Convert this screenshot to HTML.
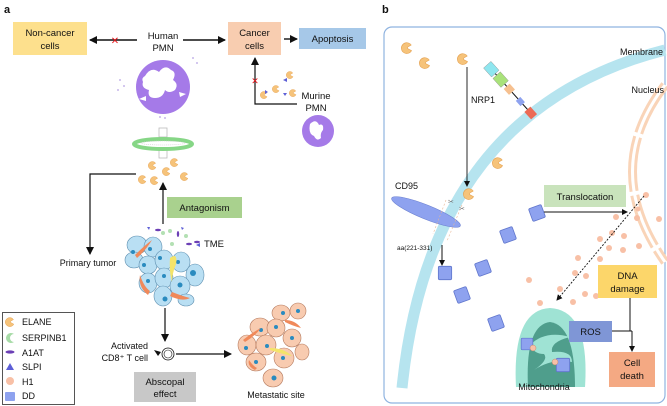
<!DOCTYPE html>
<html><head><meta charset="utf-8"><style>
html,body{margin:0;padding:0;background:#fff}
svg{display:block}
text{font-family:"Liberation Sans",sans-serif;fill:#111}
</style></head><body>
<svg width="667" height="406" viewBox="0 0 667 406" xmlns="http://www.w3.org/2000/svg">
<defs>
<marker id="ar" markerWidth="8" markerHeight="8" refX="7" refY="4" orient="auto" markerUnits="userSpaceOnUse"><path d="M0,0 L8,4 L0,8 z" fill="#111"/></marker>
<marker id="ars" markerWidth="6" markerHeight="6" refX="5" refY="3" orient="auto" markerUnits="userSpaceOnUse"><path d="M0,0 L6,3 L0,6 z" fill="#111"/></marker>
<symbol id="el" viewBox="-5 -5 10 10"><path d="M3.5,-2.5 A4.5,4.5 0 1 0 3.8,2.2 L0.8,0.6 A1.2,1.2 0 0 1 0.6,-0.8 z" fill="#f6c37a" stroke="#e4a04f" stroke-width="0.5"/></symbol>
<symbol id="dd" viewBox="-6 -6 12 12"><rect x="-5" y="-5" width="10" height="10" rx="1" fill="#8ea2ef" stroke="#5f75cc" stroke-width="0.6"/></symbol>
</defs>

<!-- ===== PANEL A ===== -->
<text x="4" y="13" font-size="11" font-weight="bold">a</text>
<rect x="13" y="22" width="74" height="33" fill="#fde08d"/>
<text x="50" y="36" font-size="9.5" text-anchor="middle">Non-cancer</text>
<text x="50" y="49" font-size="9.5" text-anchor="middle">cells</text>
<rect x="228" y="22" width="53" height="33" fill="#f8cdb0"/>
<text x="254.5" y="36" font-size="9.5" text-anchor="middle">Cancer</text>
<text x="254.5" y="49" font-size="9.5" text-anchor="middle">cells</text>
<rect x="299" y="28" width="67" height="21" fill="#a6c8e8"/>
<text x="332.5" y="42" font-size="9.5" text-anchor="middle">Apoptosis</text>
<text x="163" y="39" font-size="9.5" text-anchor="middle">Human</text>
<text x="163" y="51" font-size="9.5" text-anchor="middle">PMN</text>
<line x1="137" y1="40" x2="90" y2="40" stroke="#111" stroke-width="1.4" marker-end="url(#ar)"/>
<text x="115" y="44" font-size="10" style="fill:#e4161b" text-anchor="middle">✕</text>
<line x1="183" y1="40" x2="225" y2="40" stroke="#111" stroke-width="1.4" marker-end="url(#ar)"/>
<line x1="284" y1="39" x2="297" y2="39" stroke="#111" stroke-width="1.4" marker-end="url(#ar)"/>
<polyline points="297,104 255,104 255,58" fill="none" stroke="#111" stroke-width="1.2" marker-end="url(#ar)"/>
<text x="255" y="84" font-size="9" style="fill:#e4161b" text-anchor="middle">✕</text>
<use href="#el" x="286" y="71" width="8" height="8"/>
<use href="#el" x="272" y="85" width="8" height="8"/>
<use href="#el" x="260" y="91" width="8" height="8"/>
<use href="#el" x="289" y="89" width="8" height="8"/>
<path d="M283,80 l4,-2 l0,4z M265,90 l3,2 l-3,2z M283,93 l4,0 l-2,3z" fill="#5d5fd6"/>
<text x="316" y="99" font-size="9.5" text-anchor="middle">Murine</text>
<text x="316" y="111" font-size="9.5" text-anchor="middle">PMN</text>
<!-- human PMN -->
<circle cx="163" cy="87" r="27" fill="#a57ae8"/>
<path d="M145,76 q6,-10 14,-4 q6,-8 12,-2 q6,2 2,10 q6,4 2,10 q-6,4 -10,0 q-2,8 -10,8 q-8,0 -6,-8 q-8,-2 -6,-8 q-2,-4 2,-6z" fill="#fff"/>
<path d="M139,99 l7,-3 l0,5z M186,94 l-7,-2 l1,5z" fill="#fff"/>
<g fill="#c7b6ea"><circle cx="120" cy="80" r="1"/><circle cx="124" cy="86" r="1"/><circle cx="118" cy="90" r="1"/><circle cx="193" cy="58" r="1"/><circle cx="197" cy="63" r="1"/><circle cx="165" cy="118" r="1"/><circle cx="160" cy="117" r="1"/></g>
<!-- murine PMN -->
<circle cx="318" cy="131" r="16" fill="#a57ae8"/>
<path d="M310,124 q6,-6 9,1 q5,-2 4,5 q-3,3 -2,8 q-4,4 -7,-2 q-6,-2 -4,-12z" fill="#fff"/>
<!-- filter -->
<rect x="159" y="128" width="8" height="9" fill="#fff" stroke="#bbb" stroke-width="0.8"/>
<rect x="159" y="148" width="8" height="10" fill="#fff" stroke="#bbb" stroke-width="0.8"/>
<ellipse cx="163" cy="144" rx="29" ry="5" fill="#fff" stroke="#86d686" stroke-width="4"/>
<ellipse cx="163" cy="143" rx="22" ry="2" fill="none" stroke="#ccc" stroke-width="0.6" stroke-dasharray="1,1"/>
<use href="#el" x="148" y="161" width="9" height="9"/>
<use href="#el" x="170" y="158" width="9" height="9"/>
<use href="#el" x="162" y="167" width="9" height="9"/>
<use href="#el" x="138" y="175" width="9" height="9"/>
<use href="#el" x="150" y="176" width="9" height="9"/>
<use href="#el" x="180" y="172" width="9" height="9"/>
<polyline points="136,174 90,174 90,254" fill="none" stroke="#111" stroke-width="1.2" marker-end="url(#ar)"/>
<text x="88" y="266" font-size="9" text-anchor="middle">Primary tumor</text>
<line x1="163" y1="224" x2="163" y2="183" stroke="#111" stroke-width="1.2" marker-end="url(#ar)"/>
<rect x="167" y="197" width="75" height="21" fill="#a9d18e"/>
<text x="204.5" y="211" font-size="9.5" text-anchor="middle">Antagonism</text>
<text x="214" y="247" font-size="9.5" text-anchor="middle">TME</text>
<g fill="#6b3fb5"><ellipse cx="158" cy="230" rx="3" ry="1.2"/><ellipse cx="178" cy="234" rx="1.2" ry="3"/><ellipse cx="189" cy="244" rx="3" ry="1.2"/><ellipse cx="197" cy="242" rx="3" ry="1.2"/></g>
<g fill="#b3e0b3"><circle cx="163" cy="233" r="2"/><circle cx="170" cy="231" r="2"/><circle cx="172" cy="244" r="2"/><circle cx="186" cy="236" r="2"/></g>
<path d="M147,227 l3,0 l-1,3z M181,227 l3,1 l-2,2z M196,245 l4,-2 l0,4z" fill="#5d5fd6"/>
<!-- tumor -->
<g fill="#b9dff3" stroke="#5e8fb0" stroke-width="0.6">
<ellipse cx="137" cy="245" rx="10" ry="9"/><ellipse cx="153" cy="247" rx="9" ry="10"/><ellipse cx="134" cy="260" rx="9" ry="8"/><ellipse cx="148" cy="265" rx="9" ry="9"/><ellipse cx="164" cy="260" rx="9" ry="10"/><ellipse cx="181" cy="262" rx="9" ry="10"/><ellipse cx="195" cy="275" rx="9" ry="11"/><ellipse cx="148" cy="283" rx="9" ry="10"/><ellipse cx="164" cy="278" rx="9" ry="10"/><ellipse cx="180" cy="286" rx="10" ry="10"/><ellipse cx="163" cy="296" rx="9" ry="10"/><ellipse cx="186" cy="300" rx="8" ry="6"/>
</g>
<g fill="#2a8bbf"><circle cx="133" cy="252" r="2"/><circle cx="150" cy="249" r="2"/><circle cx="144" cy="265" r="2"/><circle cx="160" cy="258" r="2"/><circle cx="178" cy="262" r="2"/><circle cx="193" cy="273" r="3"/><circle cx="148" cy="281" r="2"/><circle cx="164" cy="276" r="2"/><circle cx="180" cy="285" r="2.5"/><circle cx="165" cy="299" r="2.5"/></g>
<path d="M135,255 q10,-10 17,-15 q-6,10 -15,18z M148,295 q-10,-8 -8,-20 q4,12 10,16z M170,296 q12,6 20,2 q-8,-2 -18,-6z" fill="#f0895a"/>
<path d="M170,258 q8,-6 6,6 q-4,10 -4,18 q-3,-10 -2,-24z" fill="#f4e46a"/>
<line x1="165" y1="308" x2="165" y2="341" stroke="#111" stroke-width="1.2" marker-end="url(#ar)"/>
<circle cx="168" cy="354" r="6" fill="#fff" stroke="#111" stroke-width="0.8"/>
<circle cx="168" cy="354" r="4" fill="#fff" stroke="#111" stroke-width="0.6"/>
<path d="M154,350 l7,2 l-3,4z" fill="#111"/>
<text x="148" y="349" font-size="9" text-anchor="end">Activated</text>
<text x="148" y="361" font-size="9" text-anchor="end">CD8⁺ T cell</text>
<line x1="176" y1="354" x2="231" y2="354" stroke="#111" stroke-width="1.2" marker-end="url(#ar)"/>
<rect x="134" y="372" width="62" height="30" fill="#c8c8c8"/>
<text x="165" y="385" font-size="9.5" text-anchor="middle">Abscopal</text>
<text x="165" y="397" font-size="9.5" text-anchor="middle">effect</text>
<!-- metastatic -->
<g fill="#f8cbb0" stroke="#b57a5e" stroke-width="0.6">
<ellipse cx="281" cy="313" rx="9" ry="8"/><ellipse cx="298" cy="311" rx="8" ry="8"/><ellipse cx="260" cy="327" rx="10" ry="9"/><ellipse cx="276" cy="328" rx="9" ry="9"/><ellipse cx="292" cy="338" rx="9" ry="9"/><ellipse cx="247" cy="345" rx="9" ry="10"/><ellipse cx="266" cy="345" rx="10" ry="10"/><ellipse cx="284" cy="358" rx="10" ry="10"/><ellipse cx="302" cy="352" rx="7" ry="8"/><ellipse cx="256" cy="362" rx="10" ry="9"/><ellipse cx="273" cy="378" rx="10" ry="9"/>
</g>
<g fill="#2a8bbf"><circle cx="283" cy="313" r="2"/><circle cx="298" cy="311" r="2"/><circle cx="261" cy="330" r="2"/><circle cx="276" cy="327" r="2"/><circle cx="292" cy="338" r="2"/><circle cx="246" cy="348" r="2"/><circle cx="267" cy="346" r="2"/><circle cx="283" cy="358" r="2"/><circle cx="256" cy="362" r="2"/><circle cx="274" cy="378" r="2.5"/></g>
<path d="M243,340 q10,-8 18,-12 q-6,8 -16,14z M285,320 q10,0 16,8 q-8,-2 -16,-6z M255,370 q-8,-4 -6,-10 q4,6 8,8z" fill="#f0895a"/>
<path d="M270,348 q14,0 22,8 q-10,-2 -22,-6z" fill="#f4e46a"/>
<text x="276" y="398" font-size="9" text-anchor="middle">Metastatic site</text>
<!-- legend -->
<rect x="2.5" y="312.5" width="72" height="92" fill="#fff" stroke="#555" stroke-width="1"/>
<use href="#el" x="5" y="317" width="10" height="10"/>
<text x="22" y="325" font-size="9">ELANE</text>
<path d="M14,334 a5,5 0 1 0 0,8 a4,4 0 1 1 0,-8z" fill="#a7dba7"/>
<text x="22" y="341" font-size="9">SERPINB1</text>
<ellipse cx="10" cy="352" rx="4.5" ry="1.6" fill="#6b3fb5"/>
<text x="22" y="356" font-size="9">A1AT</text>
<path d="M6,370 l4,-7 l4,7z" fill="#5d5fd6"/>
<text x="22" y="370" font-size="9">SLPI</text>
<circle cx="10" cy="381" r="4" fill="#f8c0a6"/>
<text x="22" y="385" font-size="9">H1</text>
<rect x="5" y="392" width="10" height="9" rx="1" fill="#8ea2ef"/>
<text x="22" y="399" font-size="9">DD</text>

<!-- ===== PANEL B ===== -->
<text x="382" y="13" font-size="11" font-weight="bold">b</text>
<rect x="384" y="27" width="281" height="376" rx="8" fill="#fff" stroke="#8fb3e0" stroke-width="1.2"/>
<path d="M665,50 Q430,110 402,388" fill="none" stroke="#b6e4ef" stroke-width="11"/>
<path d="M665,85 Q600,170 665,262" fill="none" stroke="#f9d4b8" stroke-width="9" stroke-dasharray="55,4"/>
<path d="M665,85 Q600,170 665,262" fill="none" stroke="#fff" stroke-width="3"/>
<text x="663" y="55" font-size="9" text-anchor="end">Membrane</text>
<text x="664" y="93" font-size="9" text-anchor="end">Nucleus</text>
<!-- mitochondria -->
<path d="M516,387 Q512,310 550,308 Q590,310 585,387z" fill="#9fe3d4"/>
<path d="M528,387 Q525,325 550,322 Q575,325 575,387z" fill="#4f9e8c"/>
<path d="M530,345 q15,-15 40,-8 q-20,5 -18,15 q20,-2 20,10 q-20,-4 -38,8 q15,-10 10,-16 q-10,0 -14,-9z" fill="#9fe3d4"/>
<text x="544" y="390" font-size="9" text-anchor="middle">Mitochondria</text>
<use href="#dd" x="520" y="337" width="14" height="14"/>
<circle cx="533" cy="348" r="3" fill="#f8c0a6" stroke="#b57a5e" stroke-width="0.4"/>
<use href="#dd" x="555" y="357" width="16" height="16"/>
<circle cx="555" cy="362" r="3" fill="#f8c0a6" stroke="#b57a5e" stroke-width="0.4"/>
<use href="#el" x="401" y="42" width="12" height="12"/>
<use href="#el" x="419" y="57" width="12" height="12"/>
<use href="#el" x="457" y="53" width="12" height="12"/>
<use href="#el" x="492" y="157" width="12" height="12"/>
<use href="#el" x="463" y="188" width="12" height="12"/>
<line x1="467" y1="67" x2="467" y2="186" stroke="#111" stroke-width="0.9" marker-end="url(#ars)"/>
<text x="471" y="103" font-size="9">NRP1</text>
<g transform="rotate(48 510 90)">
<line x1="480" y1="90" x2="545" y2="90" stroke="#111" stroke-width="1"/>
<rect x="476" y="85" width="12" height="10" fill="#8fe6ef" stroke="#888" stroke-width="0.4"/>
<rect x="490" y="85" width="12" height="10" fill="#a9e27a" stroke="#888" stroke-width="0.4"/>
<rect x="505" y="86" width="8" height="8" fill="#f6c08f"/>
<rect x="522" y="87" width="7" height="6" fill="#8ea2ef"/>
<rect x="536" y="86" width="10" height="8" fill="#ec6a55"/>
</g>
<text x="395" y="189" font-size="9">CD95</text>
<ellipse cx="426" cy="212" rx="37" ry="7" transform="rotate(22 426 212)" fill="#8ea2ef" stroke="#6a7fd0" stroke-width="0.6"/>
<line x1="446" y1="200" x2="433" y2="234" stroke="#e8b896" stroke-width="0.6" stroke-dasharray="2,2"/>
<line x1="462" y1="205" x2="447" y2="241" stroke="#e8b896" stroke-width="0.6" stroke-dasharray="2,2"/>
<text x="448" y="204" font-size="7" style="fill:#777">✂</text>
<text x="459" y="211" font-size="7" style="fill:#777">✂</text>
<text x="397" y="250" font-size="6.5">aa(221-331)</text>
<line x1="442" y1="245" x2="442" y2="265" stroke="#111" stroke-width="1" marker-end="url(#ars)"/>
<use href="#dd" x="529" y="205" width="16" height="16" transform="rotate(-20 537 213)"/>
<use href="#dd" x="500" y="227" width="16" height="16" transform="rotate(-20 508 235)"/>
<use href="#dd" x="437" y="265" width="16" height="16"/>
<use href="#dd" x="475" y="260" width="16" height="16" transform="rotate(-20 483 268)"/>
<use href="#dd" x="454" y="287" width="16" height="16" transform="rotate(-20 462 295)"/>
<use href="#dd" x="488" y="315" width="16" height="16" transform="rotate(-20 496 323)"/>
<g fill="#f8c0a6">
<circle cx="646" cy="195" r="3"/><circle cx="616" cy="217" r="3"/><circle cx="637" cy="218" r="3"/><circle cx="638" cy="209" r="2.5"/><circle cx="659" cy="219" r="3"/>
<circle cx="600" cy="239" r="3"/><circle cx="612" cy="233" r="3"/><circle cx="609" cy="248" r="3"/><circle cx="624" cy="236" r="3"/><circle cx="623" cy="250" r="3"/><circle cx="639" cy="246" r="3"/>
<circle cx="578" cy="258" r="3"/><circle cx="600" cy="259" r="3"/><circle cx="586" cy="276" r="3"/><circle cx="575" cy="273" r="3"/><circle cx="610" cy="282" r="3"/><circle cx="560" cy="289" r="3"/><circle cx="585" cy="294" r="3"/><circle cx="573" cy="302" r="3"/><circle cx="596" cy="296" r="3"/><circle cx="626" cy="275" r="3"/><circle cx="540" cy="303" r="3"/><circle cx="529" cy="280" r="3"/>
</g>
<line x1="644" y1="196" x2="557" y2="300" stroke="#111" stroke-width="0.9" stroke-dasharray="2,1.5" marker-end="url(#ars)"/>
<rect x="544" y="185" width="82" height="22" fill="#c9e3bc"/>
<text x="585" y="200" font-size="9.5" text-anchor="middle">Translocation</text>
<line x1="544" y1="212" x2="627" y2="212" stroke="#111" stroke-width="1" marker-end="url(#ars)"/>
<rect x="598" y="265" width="59" height="33" fill="#fcd66a"/>
<text x="627.5" y="279" font-size="9.5" text-anchor="middle">DNA</text>
<text x="627.5" y="292" font-size="9.5" text-anchor="middle">damage</text>
<rect x="569" y="321" width="43" height="21" fill="#7f96d6"/>
<text x="590.5" y="335" font-size="9.5" text-anchor="middle">ROS</text>
<polyline points="630,298 630,331 632,331" fill="none" stroke="#111" stroke-width="1"/>
<line x1="612" y1="331" x2="632" y2="331" stroke="#111" stroke-width="1"/>
<line x1="632" y1="331" x2="632" y2="351" stroke="#111" stroke-width="1" marker-end="url(#ars)"/>
<rect x="609" y="352" width="46" height="35" fill="#f4a983"/>
<text x="632" y="366" font-size="9.5" text-anchor="middle">Cell</text>
<text x="632" y="379" font-size="9.5" text-anchor="middle">death</text>
</svg>
</body></html>
